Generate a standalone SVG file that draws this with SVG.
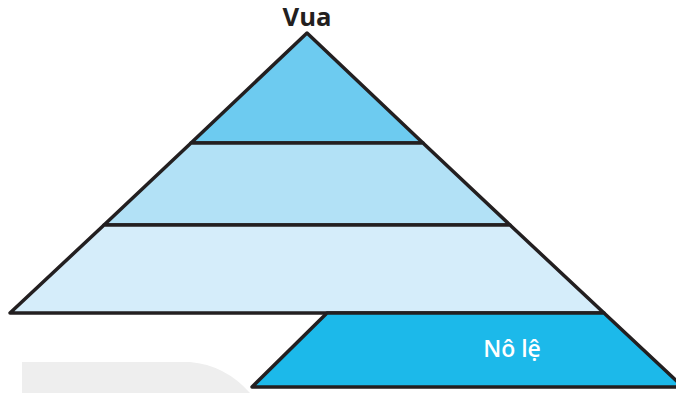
<svg xmlns="http://www.w3.org/2000/svg" width="676" height="393" viewBox="0 0 676 393">
<style>
.edge{stroke:#231f20;stroke-width:3.5;stroke-linejoin:round;stroke-linecap:round}
.lbl{font-family:"Open Sans","Noto Sans","Liberation Sans",sans-serif}
</style>
<rect width="676" height="393" fill="#ffffff"/>
<path d="M22,362 L190,362 Q225,365 250,393 L22,393 Z" fill="#eeeeee"/>
<g id="tier1"><polygon points="307,33 191,143 423,143" fill="#6dcbf0" class="edge"/></g>
<g id="tier2"><polygon points="191,143 423,143 510,225 104,225" fill="#b2e1f6" class="edge"/></g>
<g id="tier3"><polygon points="104,225 510,225 604,313 10,313" fill="#d5edfa" class="edge"/></g>
<g id="slaves">
<polygon points="327,313 604,313 683,387 252,387" fill="#1cb9ea" class="edge"/>
<text x="512" y="357" text-anchor="middle" class="lbl" font-size="23" font-weight="600" fill="#ffffff">Nô lệ</text>
</g>
<g id="king"><text x="307" y="26" text-anchor="middle" class="lbl" font-size="25" font-weight="bold" fill="#231f20" textLength="49" lengthAdjust="spacingAndGlyphs">Vua</text></g>
<g id="connectors"></g>
</svg>
